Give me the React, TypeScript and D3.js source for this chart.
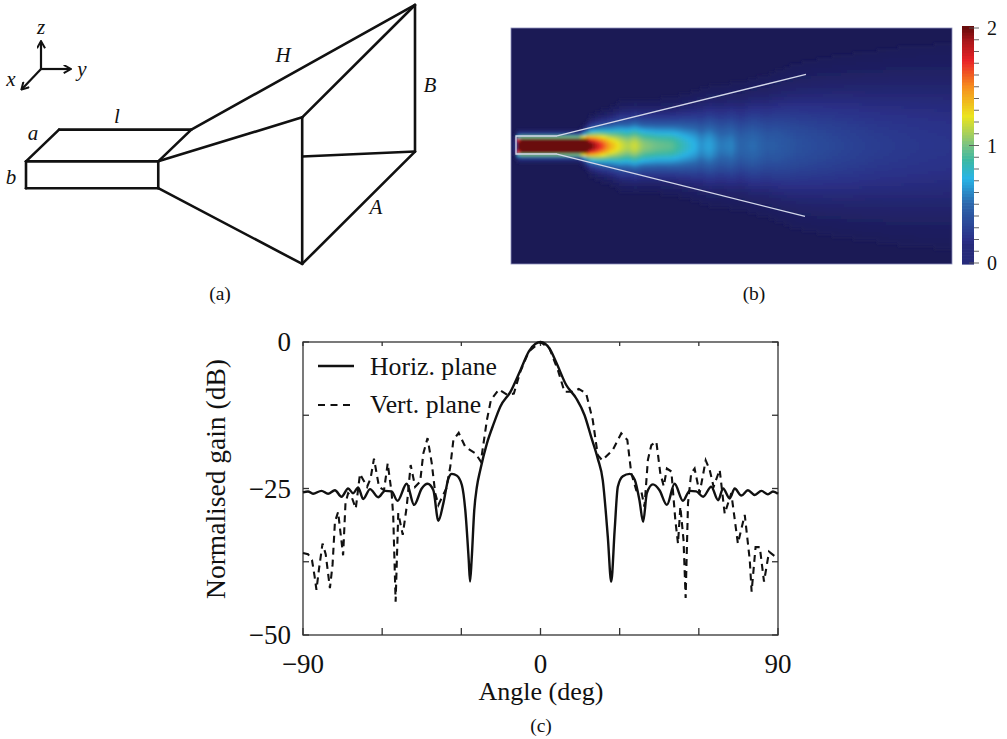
import React from "react";
import * as d3 from "d3";

const W = 1007, H = 739;

// ---- (c) gain curves: [angle deg, gain dB]
const horizAngle = [-90,-88.1,-86.2,-83,-80.5,-77.9,-75.4,-72.9,-71,-69.1,-67.2,-64.6,-61.5,-58.9,-56.4,-54.2,-50.7,-47.9,-45,-42.8,-40.6,-38.7,-36.8,-34.9,-33.6,-31.7,-29.8,-28.5,-27.2,-26.7,-26.1,-25.1,-24.1,-22.8,-20.3,-17.7,-15.2,-11.4,-7.6,-4.4,-1.9,0,3.4,5.9,9.7,13.5,16.7,19.2,21.7,23.6,25.5,26.8,28.1,29.3,31.2,33.8,35.7,37.5,38.9,40.3,42.6,45.1,47.9,50.8,54,56.5,59,61.6,64.7,67.3,69.2,71.7,73.6,76.1,78.6,81.2,83.7,86.2,88.1,90];
const horizGain = [-25.65,-25.5,-25.9,-25.4,-25.9,-25.3,-26.4,-25,-25.8,-24.8,-26.8,-25.1,-26.5,-25.4,-25.5,-27.1,-24.2,-27.8,-25,-24.2,-25.3,-30.5,-27.5,-23.3,-22.5,-22.8,-24.4,-28.7,-37.2,-40.9,-37.2,-28.7,-24.7,-21.8,-17.3,-13.9,-11,-8.5,-4.8,-1.6,-0.3,0,-1.1,-3.4,-7.3,-9.6,-12.5,-16.2,-19.9,-23.6,-33.2,-40.9,-32.1,-24.7,-22.9,-22.5,-23.5,-27,-30.7,-25.8,-24.3,-25.3,-27.8,-24.2,-27.1,-25.4,-25.5,-26.4,-24.7,-27,-25,-26.7,-25,-26.2,-25.3,-26.1,-25.4,-26,-25.5,-25.9];
const vertAngle = [-90,-88.1,-86.6,-85.6,-84.9,-83.9,-82.6,-81.4,-79.8,-78.8,-77.9,-76.7,-74.8,-73.9,-72.9,-71.6,-70,-68.4,-67.2,-65.7,-64.4,-63.1,-61.2,-59.3,-57.9,-56.4,-55.8,-54.9,-53.9,-52.2,-50.7,-49.2,-47.5,-45.6,-44.4,-42.8,-41.2,-39.9,-38.7,-35.7,-34.2,-33,-31,-28.5,-24.7,-22.6,-20.3,-18.8,-15.8,-12.7,-10.1,-7.6,-4.4,0,3.4,6.6,9.1,12.3,14.5,17.3,19.8,21.7,23.4,27.4,30.6,32.9,34.4,36.3,38.2,39.4,40.7,42,43.9,45.4,46.7,47.9,49.6,51.1,52.1,53,54.2,55,55.9,57.1,58.4,60.3,62.6,64.1,65.6,67.9,69.8,72.3,74.8,77.4,79.3,80,81.5,83.1,84.7,86.6,90];
const vertGain = [-36,-36.2,-37.2,-40,-42.3,-38.6,-34.4,-36.2,-42,-38,-30.7,-29,-36.4,-27.5,-25.8,-26.4,-28.4,-22.5,-23.5,-24.7,-23.3,-19.9,-24.7,-25.3,-20.7,-25.8,-29.8,-44.3,-29.2,-32.9,-28.1,-21,-24.7,-23.8,-19,-16.4,-20.7,-25.8,-27.8,-25,-21.3,-16.7,-15.5,-17.9,-19,-20.4,-13.3,-9.9,-8.1,-9,-8.8,-5,-1.6,0,-1.1,-4.8,-8.5,-8.5,-8,-8.8,-13.3,-19.3,-20.2,-18.4,-15.6,-16.7,-22.4,-25.3,-25.5,-28.1,-20.1,-17.6,-17,-22.4,-24.6,-21.6,-22.1,-30.4,-34.4,-28.1,-33.8,-43.7,-27.5,-22.4,-21.6,-25.8,-20.2,-21.8,-24.7,-21.8,-29.3,-25.8,-34.4,-29.5,-37.2,-42.6,-35,-35,-40.9,-35.8,-37];
const xTicks = [-90,-60,-30,0,30,60,90];
const yTicks = [0,-12.5,-25,-37.5,-50];
const xLabels = [-90,0,90];
const yLabels = [0,-25,-50];

// ---- (b) field along the horn axis: station (plot fraction 0..1), peak, spread (fraction of height)
const fieldPos = [0.01,0.016,0.022,0.155,0.165,0.18,0.2,0.225,0.25,0.265,0.28,0.3,0.33,0.365,0.395,0.42,0.43,0.45,0.475,0.5,0.52,0.55,0.58,0.6,0.65,0.72,0.82,0.91,1];
const fieldPeak = [0.2,3,4,4,3,2.05,1.75,1.42,1.2,1.12,1.2,1.05,0.98,0.94,0.8,0.7,0.62,0.68,0.55,0.58,0.48,0.52,0.44,0.44,0.38,0.33,0.27,0.24,0.22];
const fieldSpread = [0.032,0.032,0.032,0.032,0.04,0.06,0.07,0.08,0.095,0.098,0.1,0.1,0.102,0.105,0.115,0.125,0.13,0.135,0.14,0.145,0.15,0.16,0.17,0.18,0.205,0.225,0.25,0.27,0.28];
const cbarStops = [0,0.2,0.5,0.72,0.88,1,1.25,1.5,1.72,1.9,2];
const cbarColors = ["#1b1a55","#2b3088","#2c66ac","#29b4e6","#3db8a0","#78c284","#ebe41e","#f68e1f","#e92226","#a5161a","#6a0c0c"];
const cbarTicks = d3.range(0, 21);
const cbarLabels = [0,1,2];

// ---- (a) horn sketch in its own 0..1 units
const hornEdges: [number,number,number,number][] = [
  [0,0.66,0.34,0.66],[0,0.66,0,0.77],[0,0.77,0.34,0.77],[0.34,0.66,0.34,0.77],
  [0,0.66,0.085,0.53],[0.085,0.53,0.425,0.53],[0.34,0.66,0.425,0.53],
  [0.34,0.66,0.71,0.48],[0.34,0.77,0.71,1.08],[0.425,0.53,1,0.02],
  [0.71,0.48,1,0.02],[0.71,0.48,0.71,1.08],[0.71,1.08,1,0.62],
  [1,0.02,1,0.62],[0.71,0.64,1,0.62],
];

const serif = "'Liberation Serif', serif";
const ink = "#111";

export default function App() {
  const x = d3.scaleLinear().domain([-90, 90]).range([303, 778]);
  const y = d3.scaleLinear().domain([0, -50]).range([342, 635]);
  const horizLine = d3.line<number>().x((_, i) => x(horizAngle[i])).y((d) => y(d)).curve(d3.curveMonotoneX);
  const vertLine = d3.line<number>().x((_, i) => x(vertAngle[i])).y((d) => y(d));

  const hy = d3.scaleLinear().domain([0, 1]).range([28, 264]);
  const peakAt = d3.scaleLinear().domain(fieldPos).range(fieldPeak).clamp(true);
  const spreadAt = d3.scaleLinear().domain(fieldPos).range(fieldSpread).clamp(true);
  const color = d3.scaleLinear<string>().domain(cbarStops).range(cbarColors).interpolate(d3.interpolateRgb).clamp(true);
  const cb = d3.scaleLinear().domain([0, 2]).range([263, 28]);

  const cells: { c: number; r: number; v: number }[] = [];
  const nc = 147, nr = 79;
  for (let c = 0; c < nc; c++) {
    const f = (c + 0.5) / nc;
    if (f < 0.009) continue;
    const p = peakAt(f), s = spreadAt(f);
    for (let r = 0; r < nr; r++) {
      const g = (r + 0.5) / nr;
      const d = (g - 0.5) / s;
      const v = p * Math.exp(-d * d);
      if (v > 0.02) cells.push({ c, r, v });
    }
  }
  const cw = (952 - 511) / nc, ch = (264 - 28) / nr;

  const sx = d3.scaleLinear().domain([0, 1]).range([26, 415]);
  const sy = d3.scaleLinear().domain([0, 1]).range([0.1, 244.4]);
  const cbGrad = d3.range(0, 81).map((i) => i / 40);

  return (
    <svg width={W} height={H} viewBox={`0 0 ${W} ${H}`}
      style={{ position: "absolute", left: 0, top: 0, background: "#fff" }} fontFamily={serif}>
      <defs>
        <filter id="soft" x="-5%" y="-5%" width="110%" height="110%"><feGaussianBlur stdDeviation="1.6" /></filter>
        <clipPath id="hc"><rect x={511} y={28} width={441} height={236} /></clipPath>
        <marker id="ah" viewBox="0 0 10 10" refX="8" refY="5" markerWidth="9" markerHeight="9" orient="auto" markerUnits="userSpaceOnUse">
          <path d="M1,0.5 L9,5 L1,9.5" fill="none" stroke={ink} strokeWidth="2.2" />
        </marker>
      </defs>

      {/* (a) sketch */}
      <g stroke={ink} strokeWidth={2.6} strokeLinecap="round">
        {hornEdges.map((e, i) => (
          <line key={i} x1={sx(e[0])} y1={sy(e[1])} x2={sx(e[2])} y2={sy(e[3])} />
        ))}
      </g>
      <g stroke={ink} strokeWidth={2.2} fill="none">
        <line x1={41} y1={69} x2={41} y2={42} markerEnd="url(#ah)" />
        <line x1={41} y1={69} x2={70} y2={69} markerEnd="url(#ah)" />
        <line x1={41} y1={69} x2={22} y2={89} markerEnd="url(#ah)" />
      </g>
      <g fontStyle="italic" fontSize={21} fill={ink} textAnchor="middle">
        <text x={41} y={34}>z</text>
        <text x={82} y={76}>y</text>
        <text x={11} y={86}>x</text>
        <text x={33} y={140}>a</text>
        <text x={117} y={123}>l</text>
        <text x={11} y={184}>b</text>
        <text x={283} y={62}>H</text>
        <text x={430} y={92}>B</text>
        <text x={376} y={214}>A</text>
      </g>

      {/* (b) field map */}
      <rect x={511} y={28} width={441} height={236} fill={cbarColors[0]} />
      <g clipPath="url(#hc)">
        <g filter="url(#soft)">
          {cells.map((d, i) => (
            <rect key={i} x={511 + d.c * cw} y={28 + d.r * ch} width={cw + 0.5} height={ch + 0.5} fill={color(d.v)} />
          ))}
        </g>
      </g>
      <rect x={511} y={28} width={441} height={236} fill="none" stroke="#8d90bb" strokeWidth={0.8} />
      <g fill="none" stroke="#d4d8ea" strokeWidth={1.3}>
        <path d={`M557,${hy(0.4576)} L516,${hy(0.4576)} L516,${hy(0.534)} L557,${hy(0.534)}`} />
        <line x1={557} y1={hy(0.4576)} x2={806} y2={hy(0.1966)} />
        <line x1={557} y1={hy(0.534)} x2={805} y2={hy(0.7987)} />
      </g>

      {/* colour bar */}
      {cbGrad.map((v, i) => (
        <rect key={i} x={962} y={cb(v) - 2} width={12} height={3.6} fill={color(Math.max(v, 0.15))} />
      ))}
      <g stroke="#555" strokeWidth={0.9}>
        {cbarTicks.map((t) => (
          <line key={t} x1={t % 10 === 0 ? 969 : 974} x2={979} y1={cb(t / 10)} y2={cb(t / 10)} />
        ))}
      </g>
      <g fontSize={20} fill={ink}>
        {cbarLabels.map((l) => (
          <text key={l} x={987} y={cb(l) + 7}>{l}</text>
        ))}
      </g>

      {/* (c) gain */}
      <g fill="none" stroke="#333" strokeWidth={1.3}>
        <rect x={x(-90)} y={y(0)} width={x(90) - x(-90)} height={y(-50) - y(0)} />
        {xTicks.map((t) => (
          <g key={t}>
            <line x1={x(t)} x2={x(t)} y1={y(0)} y2={y(0) + 4} />
            <line x1={x(t)} x2={x(t)} y1={y(-50)} y2={y(-50) - 7} />
          </g>
        ))}
        {yTicks.map((t) => (
          <g key={t}>
            <line x1={x(-90)} x2={x(-90) + 6} y1={y(t)} y2={y(t)} />
            <line x1={x(90)} x2={x(90) - 6} y1={y(t)} y2={y(t)} />
          </g>
        ))}
      </g>
      <path d={vertLine(vertGain) ?? ""} fill="none" stroke={ink} strokeWidth={2.1} strokeDasharray="7 5" />
      <path d={horizLine(horizGain) ?? ""} fill="none" stroke={ink} strokeWidth={2.4} />
      <line x1={318} x2={354} y1={366} y2={366} stroke={ink} strokeWidth={2.4} />
      <line x1={318} x2={354} y1={405} y2={405} stroke={ink} strokeWidth={2.1} strokeDasharray="7 5.5" />
      <g fontSize={25.7} fill={ink}>
        <text x={370} y={375}>Horiz. plane</text>
        <text x={370} y={413}>Vert. plane</text>
      </g>
      <g fontSize={27} fill={ink}>
        {xLabels.map((t) => (
          <text key={t} x={x(t)} y={673} textAnchor="middle">{t < 0 ? `\u2212${-t}` : t}</text>
        ))}
        {yLabels.map((t) => (
          <text key={t} x={291} y={y(t) + 9} textAnchor="end">{t < 0 ? `\u2212${-t}` : t}</text>
        ))}
      </g>
      <g fontSize={26} fill={ink}>
        <text x={541} y={700} textAnchor="middle">Angle (deg)</text>
      </g>
      <g fontSize={27.5} fill={ink}>
        <text transform="translate(225,479) rotate(-90)" textAnchor="middle">Normalised gain (dB)</text>
      </g>
      <g fontSize={19.5} fill={ink} textAnchor="middle">
        <text x={220} y={300}>(a)</text>
        <text x={754} y={300}>(b)</text>
        <text x={541} y={732}>(c)</text>
      </g>
    </svg>
  );
}
